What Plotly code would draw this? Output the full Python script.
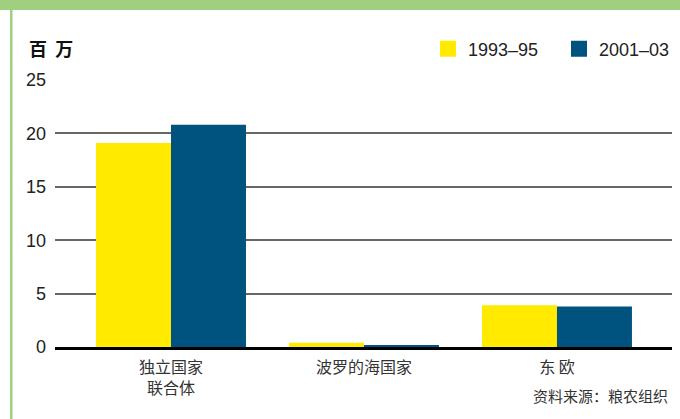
import plotly.graph_objects as go

categories = ["独立国家<br>联合体", "波罗的海国家", "东 欧"]
series_names = ["1993–95", "2001–03"]
values_1993_95 = [19.1, 0.4, 3.9]
values_2001_03 = [20.8, 0.1, 3.8]
y_ticks = [0, 5, 10, 15, 20, 25]
colors = ["#FFEA00", "#00527F"]

W, H = 680, 419
L, R, T, B = 55, 8, 80, 72
pw, ph = W - L - R, H - T - B

def px(x):
    return (x - L) / pw

def py(y):
    return (H - B - y) / ph

fig = go.Figure()
for name, vals, col in zip(series_names, [values_1993_95, values_2001_03], colors):
    fig.add_trace(go.Bar(x=categories, y=vals, name=name, marker=dict(color=col, line=dict(width=0)),
                         showlegend=False))
for name, col in zip(series_names, colors):
    fig.add_trace(go.Scatter(x=[None], y=[None], mode="markers", name=name,
                             marker=dict(symbol="square", size=19, color=col, line=dict(width=0))))

green = "#A0CF80"
fig.update_layout(
    width=W, height=H,
    margin=dict(l=L, r=R, t=T, b=B, pad=0, autoexpand=False),
    paper_bgcolor="white", plot_bgcolor="white",
    barmode="group", bargap=0.223, bargroupgap=0,
    font=dict(family="Liberation Sans, Arial, sans-serif", color="#222"),
    showlegend=True,
    legend=dict(orientation="h", xref="container", yref="container",
                x=428 / W, y=1 - 49 / H, xanchor="left", yanchor="middle",
                font=dict(size=18, color="#222"), itemwidth=30, entrywidth=86,
                bgcolor="rgba(0,0,0,0)", tracegroupgap=0),
    xaxis=dict(type="category", range=[-0.601, 2.596], showgrid=False,
               showline=True, linecolor="black", linewidth=3, layer="above traces",
               ticks="", tickfont=dict(family="Noto Sans CJK SC", size=16, color="#333"),
               ticklabelstandoff=4, fixedrange=True),
    yaxis=dict(range=[0, 25], tickvals=y_ticks, showgrid=True, gridcolor="#666", gridwidth=2,
               zeroline=False, showline=False, ticks="",
               tickfont=dict(size=18, color="#222"), ticklabelstandoff=8, fixedrange=True),
    shapes=[
        dict(type="rect", xref="paper", yref="paper", x0=px(0), x1=px(W), y0=py(10), y1=py(0),
             fillcolor=green, line=dict(width=0), layer="below"),
        dict(type="rect", xref="paper", yref="paper", x0=px(10), x1=px(12.5), y0=py(H), y1=py(10),
             fillcolor=green, line=dict(width=0), layer="below"),
    ],
    annotations=[
        dict(text="<b>百&nbsp;&nbsp;万</b>", xref="paper", yref="paper", x=px(27), y=py(48),
             xanchor="left", yanchor="middle", showarrow=False,
             font=dict(family="Noto Sans CJK SC", size=18, color="#111")),
        dict(text="资料来源：粮农组织", xref="paper", yref="paper", x=px(670), y=py(395),
             xanchor="right", yanchor="middle", showarrow=False,
             font=dict(family="Noto Sans CJK SC", size=15, color="#333")),
    ],
)

fig.write_html("out.html", config={"displayModeBar": False},
               post_script="document.body.style.margin='0';document.body.style.overflow='hidden';")
